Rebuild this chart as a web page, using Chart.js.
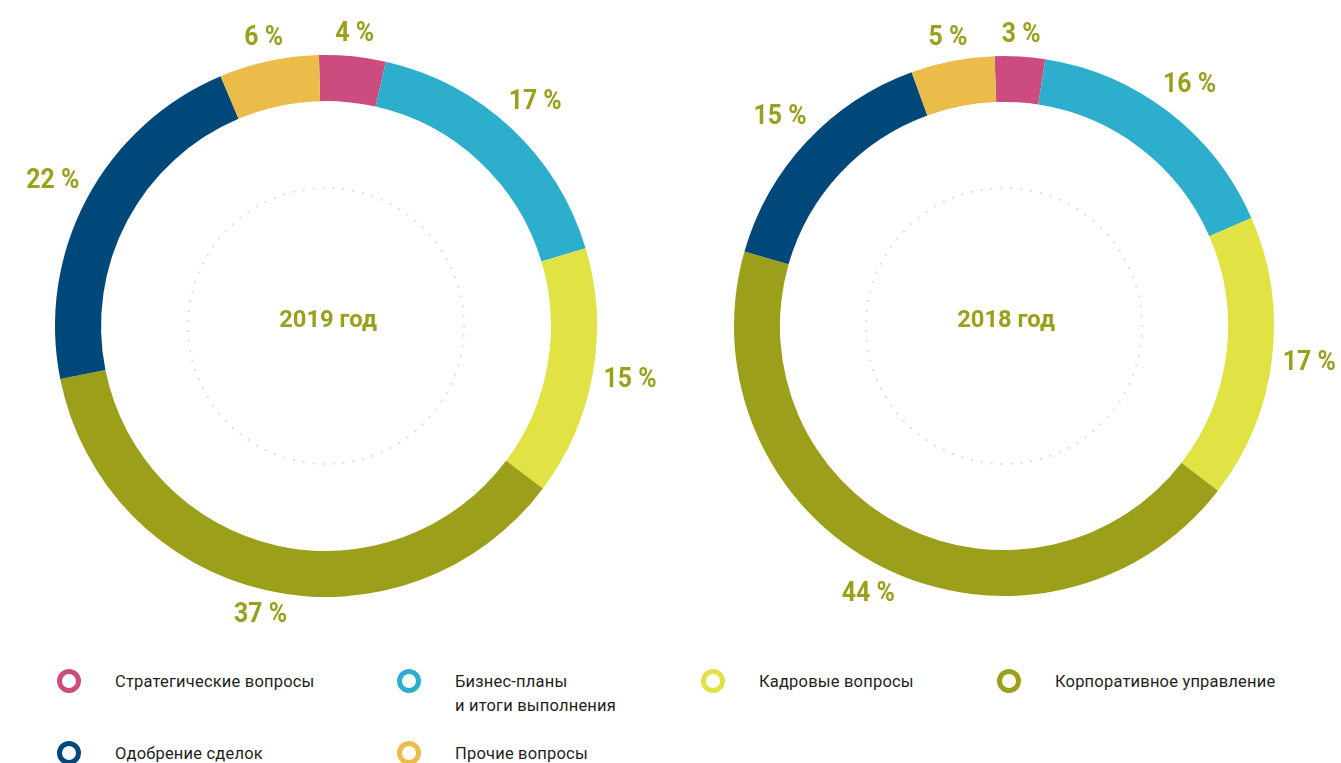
<!DOCTYPE html>
<html>
<head>
<meta charset="utf-8">
<script src="https://cdn.jsdelivr.net/npm/chart.js@4"></script>
<style>
  body { margin: 0; background: #fff; width: 1341px; height: 763px; position: relative; overflow: hidden;
         font-family: Roboto, sans-serif; }
  .box { position: absolute; top: 0; height: 652px; }
  #box1 { left: 0; width: 690px; }
  #box2 { left: 667px; width: 674px; }
  .lg { position: absolute; font-size: 17px; color: #231f20; line-height: 24px; letter-spacing: 0.2px; }
  .lg span { display: inline-block; transform: scaleX(0.97); transform-origin: 0 0; white-space: nowrap; }
  .lg i { position: absolute; left: -58px; top: 0px; width: 14px; height: 14px; border-radius: 50%;
          border: 5px solid; box-sizing: content-box; }
</style>
</head>
<body>
<div class="box" id="box1"><canvas id="ch2019"></canvas></div>
<div class="box" id="box2"><canvas id="ch2018"></canvas></div>
<div id="legend"></div>
<script>
// data
var categories = ['Стратегические вопросы', 'Бизнес-планы\nи итоги выполнения', 'Кадровые вопросы',
    'Корпоративное управление', 'Одобрение сделок', 'Прочие вопросы'];
var values2019 = [4, 17, 15, 37, 22, 6];
var values2018 = [3, 16, 17, 44, 15, 5];
var years = ['2019 год', '2018 год'];

// colors
var colors = ['#cd4c7f', '#2eaecd', '#e1e243', '#9c9f19', '#00477a', '#ecbc4a'];
var olive = '#9aa01c';

// draw text squeezed horizontally (original font is condensed)
function squeezedText(ctx, txt, x, y, sx) {
    ctx.save();
    ctx.translate(x, y);
    ctx.scale(sx, 1);
    ctx.fillText(txt, 0, 0);
    ctx.restore();
}

// labels outside + center text + dotted circle
var ringPlugin = {
    id: 'ringDeco',
    afterDatasetsDraw: function (chart) {
        var ctx = chart.ctx;
        var meta = chart.getDatasetMeta(0);
        var arc0 = meta.data[0];
        var cx = arc0.x, cy = arc0.y, outer = arc0.outerRadius;

        // dotted circle
        ctx.save();
        ctx.fillStyle = '#dcdcdc';
        var rDot = 138;
        var n = Math.round(2 * Math.PI * rDot / 10);
        for (var k = 0; k < n; k++) {
            var a = k / n * 2 * Math.PI;
            ctx.beginPath();
            ctx.arc(cx + rDot * Math.cos(a), cy + rDot * Math.sin(a), 1.1, 0, 2 * Math.PI);
            ctx.fill();
        }

        // center title
        ctx.fillStyle = olive;
        ctx.font = 'bold 24px Roboto, sans-serif';
        ctx.textAlign = 'center';
        ctx.textBaseline = 'middle';
        squeezedText(ctx, chart.options.plugins.centerTitle, cx + 2, cy - 5, 0.99);

        // percent labels
        var sx = 0.92;
        ctx.font = 'bold 27px Roboto, sans-serif';
        var vals = chart.data.datasets[0].data;
        meta.data.forEach(function (arc, i) {
            var mid = (arc.startAngle + arc.endAngle) / 2;
            var txt = vals[i] + ' %';
            var hw = ctx.measureText(txt).width * sx / 2;
            var hh = 10;
            var r = outer + 10 + hw * Math.abs(Math.cos(mid)) + hh * Math.abs(Math.sin(mid));
            squeezedText(ctx, txt, cx + r * Math.cos(mid), cy + r * Math.sin(mid), sx);
        });
        ctx.restore();
    }
};

function makeDonut(id, values, title, rot, pad) {
    var el = document.getElementById(id);
    new Chart(el, {
        type: 'doughnut',
        data: {
            labels: categories,
            datasets: [{ data: values, backgroundColor: colors, borderWidth: 0 }]
        },
        options: {
            responsive: true,
            maintainAspectRatio: false,
            animation: false,
            cutout: '83%',
            rotation: rot,
            layout: { padding: pad },
            plugins: { legend: { display: false }, tooltip: { enabled: false }, centerTitle: title }
        },
        plugins: [ringPlugin]
    });
}

makeDonut('ch2019', values2019, years[0], -1.5, { left: 55, right: 93, top: 55, bottom: 55 });
makeDonut('ch2018', values2018, years[1], -2, { left: 67, right: 67, top: 56, bottom: 56 });

// legend
var legendPos = [[115, 669], [455, 669], [759, 669], [1055, 669], [115, 741], [455, 741]];
var lg = document.getElementById('legend');
categories.forEach(function (name, i) {
    var d = document.createElement('div');
    d.className = 'lg';
    d.style.left = legendPos[i][0] + 'px';
    d.style.top = legendPos[i][1] + 'px';
    d.innerHTML = '<i style="border-color:' + colors[i] + '"></i><span>' + name.replace('\n', '<br>') + '</span>';
    lg.appendChild(d);
});
</script>
</body>
</html>
